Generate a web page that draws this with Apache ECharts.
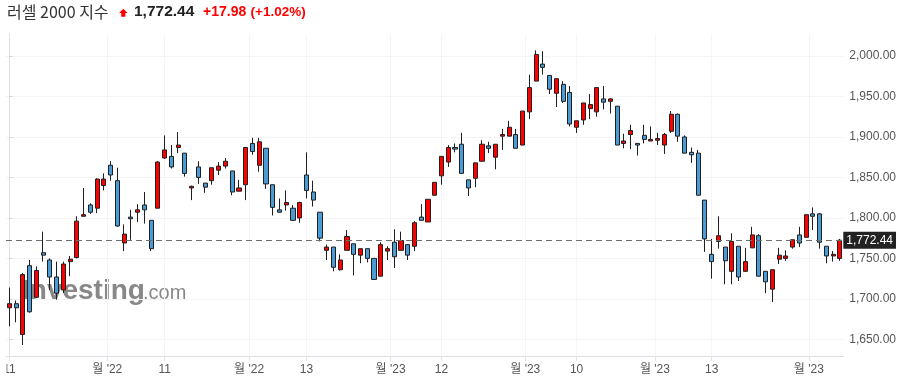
<!DOCTYPE html>
<html>
<head>
<meta charset="utf-8">
<title>러셀 2000 지수</title>
<script src="https://cdn.jsdelivr.net/npm/echarts@6/dist/echarts.min.js"></script>
<style>
  html, body { margin: 0; padding: 0; background: #fff; }
  #chart { width: 906px; height: 390px; }
</style>
</head>
<body>
<div id="chart"></div>
<script>
// 일봉 OHLC
var openVals = [1689, 1694, 1656, 1741, 1702, 1757, 1748, 1727, 1711, 1746,
  1751, 1802, 1816, 1812, 1840, 1865, 1846, 1769, 1801, 1807,
  1816, 1797, 1812, 1874, 1876, 1887, 1880, 1837, 1863, 1843,
  1846, 1859, 1864, 1858, 1833, 1841, 1892, 1865, 1886, 1841,
  1810, 1816, 1812, 1800, 1853, 1832, 1807, 1760, 1764, 1736,
  1760, 1768, 1754, 1762, 1750, 1728, 1759, 1770, 1760, 1767,
  1765, 1801, 1795, 1828, 1852, 1869, 1887, 1891, 1847, 1849,
  1870, 1889, 1875, 1901, 1901, 1903, 1890, 1931, 1969, 1990,
  1976, 1954, 1965, 1955, 1912, 1921, 1935, 1931, 1947, 1944,
  1938, 1892, 1903, 1892, 1902, 1895, 1896, 1890, 1907, 1928,
  1900, 1881, 1880, 1822, 1755, 1771, 1764, 1734, 1765, 1734,
  1763, 1778, 1734, 1712, 1749, 1750, 1764, 1779, 1776, 1805,
  1805, 1765, 1753, 1750];
var closeVals = [1694, 1689, 1730, 1684, 1735, 1754, 1727, 1707, 1743, 1749,
  1796, 1804, 1807, 1848, 1848, 1853, 1790, 1780, 1799, 1810,
  1810, 1762, 1869, 1884, 1863, 1890, 1855, 1839, 1850, 1838,
  1862, 1864, 1870, 1832, 1837, 1887, 1882, 1894, 1842, 1813,
  1807, 1819, 1797, 1819, 1834, 1822, 1775, 1764, 1739, 1748,
  1777, 1755, 1762, 1750, 1724, 1767, 1762, 1752, 1772, 1754,
  1794, 1797, 1823, 1844, 1876, 1887, 1885, 1855, 1837, 1868,
  1891, 1886, 1891, 1903, 1912, 1886, 1932, 1961, 2002, 1986,
  1959, 1972, 1944, 1916, 1920, 1942, 1940, 1961, 1943, 1947,
  1890, 1895, 1908, 1890, 1897, 1897, 1898, 1903, 1928, 1901,
  1880, 1878, 1828, 1774, 1746, 1778, 1747, 1771, 1727, 1746,
  1779, 1728, 1721, 1736, 1754, 1753, 1773, 1769, 1804, 1802,
  1770, 1753, 1755, 1772.44];
var lowVals = [1666, 1671, 1643, 1683, 1701, 1746, 1711, 1699, 1707, 1728,
  1750, 1802, 1805, 1806, 1834, 1846, 1789, 1759, 1773, 1795,
  1793, 1759, 1812, 1873, 1861, 1880, 1851, 1822, 1842, 1831,
  1841, 1853, 1861, 1828, 1833, 1822, 1878, 1857, 1836, 1803,
  1807, 1809, 1797, 1794, 1824, 1814, 1771, 1748, 1734, 1735,
  1760, 1729, 1744, 1745, 1724, 1728, 1748, 1738, 1760, 1748,
  1759, 1797, 1795, 1828, 1841, 1863, 1881, 1855, 1827, 1838,
  1870, 1880, 1860, 1884, 1901, 1886, 1890, 1922, 1969, 1977,
  1953, 1937, 1942, 1913, 1905, 1915, 1922, 1925, 1934, 1929,
  1890, 1886, 1885, 1877, 1892, 1895, 1890, 1879, 1905, 1894,
  1880, 1868, 1828, 1758, 1725, 1762, 1718, 1718, 1722, 1734,
  1763, 1728, 1707, 1696, 1743, 1747, 1762, 1764, 1776, 1785,
  1762, 1744, 1746, 1747];
var highVals = [1714, 1698, 1732, 1748, 1740, 1783, 1750, 1746, 1746, 1753,
  1802, 1837, 1818, 1849, 1855, 1870, 1862, 1792, 1810, 1817,
  1832, 1797, 1870, 1902, 1890, 1906, 1880, 1840, 1870, 1843,
  1862, 1869, 1874, 1858, 1847, 1887, 1899, 1899, 1886, 1841,
  1824, 1834, 1816, 1820, 1881, 1846, 1807, 1767, 1764, 1755,
  1785, 1768, 1762, 1762, 1750, 1770, 1765, 1786, 1783, 1767,
  1796, 1817, 1823, 1844, 1876, 1890, 1892, 1905, 1847, 1868,
  1896, 1894, 1891, 1910, 1920, 1910, 1932, 1977, 2007, 2006,
  1976, 1972, 1969, 1963, 1920, 1942, 1953, 1961, 1963, 1948,
  1938, 1904, 1915, 1892, 1915, 1913, 1905, 1905, 1932, 1929,
  1902, 1887, 1884, 1822, 1774, 1802, 1764, 1781, 1765, 1763,
  1789, 1780, 1734, 1736, 1763, 1760, 1773, 1789, 1804, 1813,
  1806, 1765, 1759, 1774];

// x축 눈금 위치(봉 인덱스)와 라벨
var tickPos = [0, 14.5, 23, 35.5, 44, 56.45, 64, 76.4, 84, 95.6, 104, 118.4];
var tickText = ['11', "월 '22", '11', "월 '22", '13', "월 '23", '12', "월 '23", '10', "월 '23", '13', "월 '23"];
// y축 눈금
var priceTicks = [1650, 1700, 1750, 1800, 1850, 1900, 1950, 2000];

var titleText = '러셀 2000 지수';
var lastPrice = 1772.44;
var changeText = '+17.98';
var changePctText = '(+1.02%)';

var upColor = '#ff0000';
var downColor = '#4a9bd6';
var edgeColor = '#1f1f1f';
var fontLatin = "'Liberation Sans', Arial, 'Noto Sans CJK KR', sans-serif";

function fmtPrice(v) {
  return Number(v).toLocaleString('en-US', { minimumFractionDigits: 2, maximumFractionDigits: 2 });
}

var candles = openVals.map(function (o, i) {
  return [i, o, closeVals[i], lowVals[i], highVals[i]];
});

var chart = echarts.init(document.getElementById('chart'), null, { renderer: 'canvas' });

chart.setOption({
  animation: false,
  backgroundColor: '#fff',
  grid: {
    left: 6,
    right: 62.7,
    top: 34,
    bottom: 34,
    containLabel: false,
    outerBoundsMode: 'none'
  },
  xAxis: {
    type: 'value',
    min: -0.5,
    max: openVals.length - 0.5,
    axisLine: { show: true, lineStyle: { color: '#dcdde3', width: 1 } },
    axisTick: { show: true, customValues: tickPos, length: 5, lineStyle: { color: '#e4e4e8' } },
    axisLabel: {
      customValues: tickPos,
      margin: 8,
      color: '#555',
      fontSize: 12,
      fontFamily: fontLatin,
      formatter: function (v) {
        for (var i = 0; i < tickPos.length; i++) {
          if (Math.abs(tickPos[i] - v) < 0.01) return tickText[i];
        }
        return '';
      }
    },
    splitLine: { show: true, lineStyle: { color: '#f5f5f7', width: 1 } }
  },
  yAxis: {
    type: 'value',
    position: 'right',
    min: 1629.4,
    max: 2027.2,
    axisLine: { show: true, lineStyle: { color: '#e0e0e4', width: 1 } },
    axisTick: { show: true, customValues: priceTicks, length: 3, lineStyle: { color: '#d0d0d0' } },
    axisLabel: {
      customValues: priceTicks,
      margin: 6,
      color: '#555',
      fontSize: 12,
      fontFamily: fontLatin,
      formatter: function (v) { return fmtPrice(v); }
    },
    splitLine: { show: true, lineStyle: { color: '#f4f4f6', width: 1 } }
  },
  series: [{
    type: 'candlestick',
    data: candles,
    barWidth: 4.6,
    itemStyle: {
      color: upColor,
      color0: downColor,
      borderColor: edgeColor,
      borderColor0: edgeColor,
      borderWidth: 1
    },
    markLine: {
      silent: true,
      symbol: ['none', 'none'],
      lineStyle: { color: '#6e6e6e', type: [6, 4], width: 1 },
      label: {
        show: true,
        position: 'end',
        distance: 0,
        formatter: function () { return fmtPrice(lastPrice); },
        backgroundColor: '#222',
        color: '#fff',
        padding: [3, 3, 2, 3],
        fontSize: 12,
        fontFamily: fontLatin
      },
      data: [{ yAxis: lastPrice }]
    }
  }],
  graphic: [
    // 워터마크
    {
      type: 'text', x: 22, y: 291, z: 0,
      style: { text: 'Investing', fontSize: 28, fontWeight: 'bold', fontFamily: fontLatin,
        fill: 'rgba(115,115,115,0.85)', align: 'left', verticalAlign: 'middle' }
    },
    {
      type: 'text', x: 143, y: 293, z: 0,
      style: { text: '.com', fontSize: 20, fontFamily: fontLatin,
        fill: 'rgba(115,115,115,0.85)', align: 'left', verticalAlign: 'middle' }
    },
    // 헤더
    {
      type: 'text', x: 7, y: 12, z: 10,
      style: { text: titleText, fontSize: 16, fontFamily: "'Noto Sans CJK KR', sans-serif",
        fill: '#333', align: 'left', verticalAlign: 'middle' }
    },
    {
      type: 'polygon', z: 10,
      shape: { points: [[123.3, 8.8], [127.6, 13], [125.4, 13], [125.4, 16.8], [121.2, 16.8], [121.2, 13], [119, 13]] },
      style: { fill: upColor }
    },
    {
      type: 'text', x: 134, y: 12, z: 10,
      style: { text: fmtPrice(lastPrice), fontSize: 15.5, fontWeight: 'bold', fontFamily: fontLatin,
        fill: '#222', align: 'left', verticalAlign: 'middle' }
    },
    {
      type: 'text', x: 203, y: 12, z: 10,
      style: { text: changeText, fontSize: 14, fontWeight: 'bold', fontFamily: fontLatin,
        fill: upColor, align: 'left', verticalAlign: 'middle' }
    },
    {
      type: 'text', x: 250.5, y: 12, z: 10,
      style: { text: changePctText, fontSize: 13.5, fontWeight: 'bold', fontFamily: fontLatin,
        fill: upColor, align: 'left', verticalAlign: 'middle' }
    },
    // 왼쪽 끝 잘림
    {
      type: 'rect', z: 100,
      shape: { x: 0, y: 358, width: 6.5, height: 32 },
      style: { fill: '#fff' }
    }
  ]
});
</script>
</body>
</html>
